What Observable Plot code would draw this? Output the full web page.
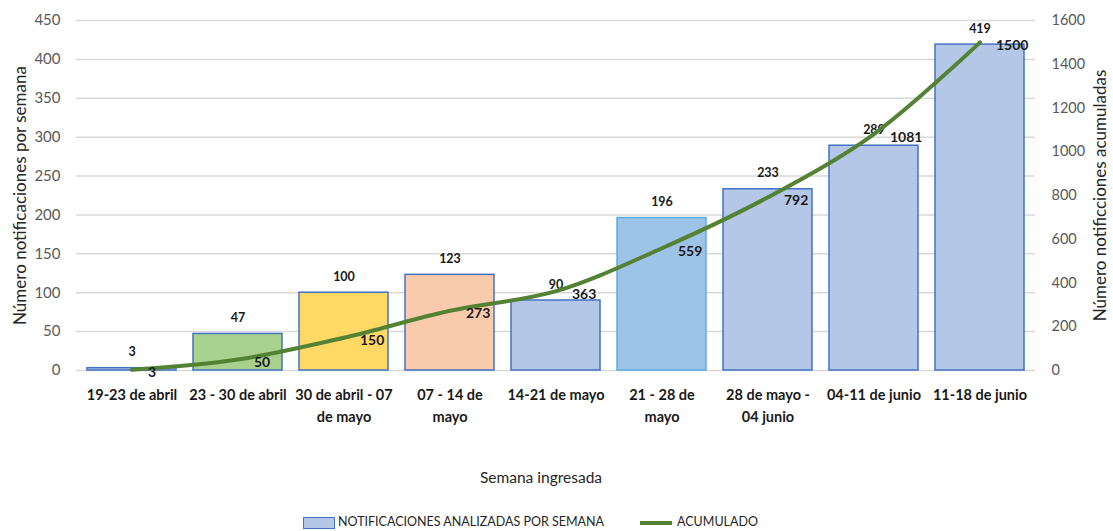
<!DOCTYPE html>
<html>
<head>
<meta charset="utf-8">
<script src="https://cdn.jsdelivr.net/npm/d3@7"></script>
<script src="https://cdn.jsdelivr.net/npm/@observablehq/plot@0.6"></script>
<style>
  body { margin: 0; background: #fff; font-family: Lato, "Open Sans", sans-serif; }
  #wrap { position: relative; width: 1113px; height: 531px; }
  .legend { position: absolute; top: 515px; left: 0; width: 1113px; font-size: 12.5px; color: #262626; font-family: Lato, sans-serif; }
  .legend span { position: absolute; white-space: nowrap; }
</style>
</head>
<body>
<div id="wrap"></div>
<script>
const weeks = [
  "19-23 de abril", "23 - 30 de abril", "30 de abril - 07\nde mayo", "07 - 14 de\nmayo",
  "14-21 de mayo", "21 - 28 de\nmayo", "28 de mayo -\n04 junio", "04-11 de junio", "11-18 de junio"
];
const weekly = [3, 47, 100, 123, 90, 196, 233, 289, 419];
const cumulative = [3, 50, 150, 273, 363, 559, 792, 1081, 1500];
const fills = ["#b4c7e7", "#a9d18e", "#ffd966", "#f8cbad", "#b4c7e7", "#9dc3e6", "#b4c7e7", "#b4c7e7", "#b4c7e7"];
const strokes = ["#4472c4", "#4472c4", "#4472c4", "#4472c4", "#4472c4", "#5aaee8", "#4472c4", "#4472c4", "#4472c4"];
const leftTicks = d3.range(0, 451, 50);
const rightTicks = d3.range(0, 1601, 200);
const leftMax = 450, rightMax = 1600;
const k = leftMax / rightMax;

const data = weeks.map((w, i) => ({week: w, n: weekly[i], cum: cumulative[i], cumScaled: cumulative[i] * k, fill: fills[i], stroke: strokes[i]}));

const font = "Lato, 'Open Sans', sans-serif";

const chart = Plot.plot({
  width: 1113,
  height: 500,
  marginLeft: 76,
  marginRight: 78,
  marginTop: 20,
  marginBottom: 130,
  style: {fontFamily: font, fontSize: "14px", color: "#595959", background: "#fff"},
  x: {domain: weeks, paddingInner: 0.16, paddingOuter: 0.08, label: null},
  y: {domain: [0, leftMax], label: null},
  marks: [
    Plot.gridY(leftTicks, {stroke: "#d9d9d9", strokeOpacity: 1, strokeWidth: 1.5}),
    Plot.axisY({ticks: leftTicks, tickSize: 0, tickPadding: 16, fontSize: 15, fill: "#595959",
      label: "Número notificaciones por semana", labelAnchor: "center", labelArrow: "none", labelOffset: 63}),
    Plot.axisY({anchor: "right", ticks: rightTicks.map(v => v * k), tickFormat: v => String(Math.round(v / k)),
      tickSize: 0, tickPadding: 16, textAnchor: "start", fontSize: 14.5, fill: "#595959",
      label: "Número notificciones acumuladas", labelAnchor: "center", labelArrow: "none", labelOffset: 70}),
    Plot.barY(data, {x: "week", y: "n", fill: "fill", stroke: "stroke", strokeWidth: 1.5}),
    Plot.axisX({tickSize: 0, tickPadding: 14, fontSize: 14.5, fontWeight: "bold", fill: "#1a1a1a", lineHeight: 1.5,
      label: null}),
    Plot.text(["Semana ingresada"], {frameAnchor: "bottom", dx: -15, dy: 112, fontSize: 15.5, fill: "#262626"}),
    Plot.text(data, {x: "week", y: "n", text: d => String(d.n), dy: -16, fontSize: 12.5, fontWeight: "bold", fill: "#1a1a1a"}),
    Plot.line(data, {x: "week", y: "cumScaled", stroke: "#548235", strokeWidth: 4, curve: "catmull-rom"}),
    Plot.text(data, {x: "week", y: "cumScaled", text: d => String(d.cum), dx: 16, dy: 3, textAnchor: "start", fontSize: 14, fontWeight: "bold", fill: "#1a1a1a"})
  ]
});

d3.select(chart).selectAll("[aria-label='y-axis label'] text")
  .style("font-size", "17px").attr("fill", "#262626");
d3.select(chart).selectAll("[aria-label='y-axis label']")
  .style("font-size", "17px").attr("fill", "#262626");
document.getElementById("wrap").appendChild(chart);

const legend = document.createElement("div");
legend.className = "legend";
legend.innerHTML = `
  <span style="left:303px;top:2px;width:30px;height:10px;background:#b4c7e7;border:1.5px solid #4472c4;"></span>
  <span style="left:338px;top:-1px;">NOTIFICACIONES ANALIZADAS POR SEMANA</span>
  <span style="left:640px;top:6px;width:32px;height:4px;background:#548235;"></span>
  <span style="left:677px;top:-1px;">ACUMULADO</span>`;
document.getElementById("wrap").appendChild(legend);
</script>
</body>
</html>
